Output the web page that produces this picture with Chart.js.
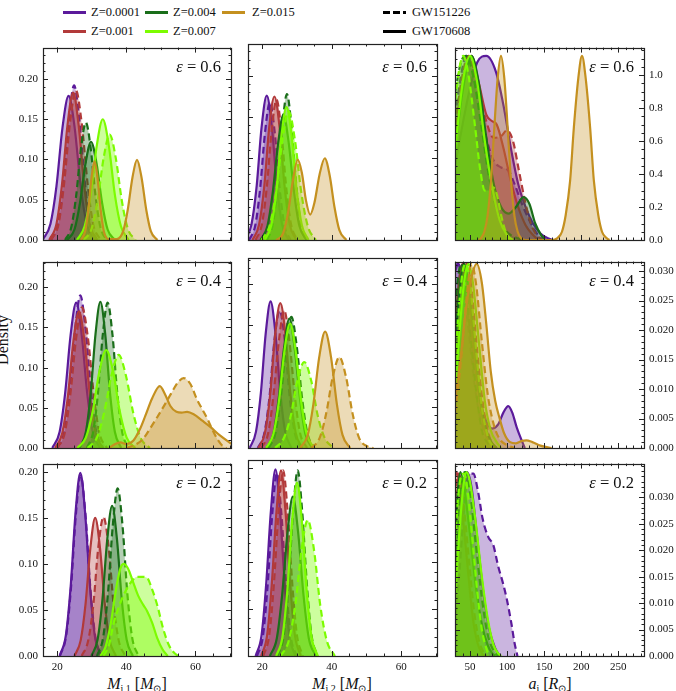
<!DOCTYPE html>
<html>
<head>
<meta charset="utf-8">
<script src="https://cdn.jsdelivr.net/npm/chart.js@4.4.0/dist/chart.umd.min.js"></script>
<style>
  body { margin: 0; width: 676px; height: 691px; overflow: hidden; background: #fff; position: relative; font-family: "Liberation Serif", serif; color: #111; }
  canvas { position: absolute; }
  .t { position: absolute; white-space: nowrap; }
  .leg { font-size: 12.5px; line-height: 14px; }
  .sw { position: absolute; width: 23px; height: 2.5px; }
  .eps { font-size: 16.5px; line-height: 16px; text-align: right; }
  .xt { font-size: 16px; line-height: 18px; text-align: center; width: 160px; }
  sub { font-size: 10px; vertical-align: -3px; line-height: 0; }
</style>
</head>
<body>
<!-- legend -->
<div class="sw" style="left:63px;top:11px;background:#5b1a9b"></div><div class="t leg" style="left:91px;top:5px">Z=0.0001</div>
<div class="sw" style="left:145px;top:11px;background:#1a6e1a"></div><div class="t leg" style="left:173px;top:5px">Z=0.004</div>
<div class="sw" style="left:222px;top:11px;background:#c4901f"></div><div class="t leg" style="left:252px;top:5px">Z=0.015</div>
<div class="sw" style="left:63px;top:30px;background:#b23a3a"></div><div class="t leg" style="left:91px;top:24px">Z=0.001</div>
<div class="sw" style="left:145px;top:30px;background:#7cfc00"></div><div class="t leg" style="left:173px;top:24px">Z=0.007</div>
<div class="sw" style="left:383px;top:11px;background:repeating-linear-gradient(90deg,#000 0 7px,transparent 7px 10px)"></div><div class="t leg" style="left:412px;top:5px">GW151226</div>
<div class="sw" style="left:383px;top:30px;background:#000"></div><div class="t leg" style="left:412px;top:24px">GW170608</div>

<div class="t" style="font-size:16px;left:-27px;top:331px;width:60px;text-align:center;transform:rotate(-90deg)">Density</div>
<div class="t xt" style="left:57px;top:675px"><i>M</i><sub>i,1</sub> [<i>M</i><sub>&#8857;</sub>]</div>
<div class="t xt" style="left:262px;top:675px"><i>M</i><sub>i,2</sub> [<i>M</i><sub>&#8857;</sub>]</div>
<div class="t xt" style="left:470px;top:675px"><i>a</i><sub>i</sub> [<i>R</i><sub>&#8857;</sub>]</div>

<script>
// ===== KDE curves, points are [x, density] =====
// m1 = M_i,1, m2 = M_i,2, a = a_i ; e06/e04/e02 = epsilon ; _s = GW170608 (solid), _d = GW151226 (dashed)

// --- epsilon = 0.6 ---
const m1_e06_z0001_s = [[15.8,0],[18.05,0.020],[19.8,0.067],[21.55,0.140],[23.3,0.179],[25.05,0.140],[26.8,0.067],[28.55,0.020],[30.8,0]];
const m1_e06_z0001_d = [[18.3,0],[20.3,0.021],[21.8,0.072],[23.4,0.150],[24.9,0.192],[26.4,0.150],[28.0,0.072],[29.5,0.021],[31.5,0]];
const m1_e06_z001_s = [[17.7,0],[19.8,0.020],[21.4,0.069],[23.0,0.143],[24.6,0.183],[26.2,0.143],[27.8,0.069],[29.4,0.020],[31.5,0]];
const m1_e06_z001_d = [[18.2,0],[20.4,0.020],[22.0,0.070],[23.7,0.145],[25.4,0.186],[27.1,0.145],[28.8,0.070],[30.4,0.020],[32.6,0]];
const m1_e06_z004_s = [[22.9,0],[25.0,0.013],[26.6,0.046],[28.2,0.095],[29.8,0.122],[31.4,0.095],[33.0,0.046],[34.6,0.013],[36.7,0]];
const m1_e06_z004_d = [[22.3,0],[24.1,0.016],[25.5,0.055],[26.9,0.114],[28.3,0.146],[29.7,0.114],[31.1,0.055],[32.5,0.016],[34.3,0]];
const m1_e06_z007_s = [[25.7,0],[27.95,0.017],[29.7,0.056],[31.45,0.117],[33.2,0.150],[34.95,0.117],[36.7,0.056],[38.45,0.017],[40.7,0]];
const m1_e06_z007_d = [[27.7,0],[29.95,0.014],[31.7,0.049],[33.45,0.102],[35.2,0.131],[36.95,0.102],[38.7,0.049],[40.45,0.014],[42.7,0]];
const m1_e06_z015_s = [[26.9,0],[28.1,0.011],[29.0,0.037],[29.9,0.076],[30.8,0.098],[31.7,0.076],[32.6,0.037],[33.5,0.011],[35.2,0.001],[37.2,0.001],[39.1,0.011],[40.4,0.037],[41.8,0.078],[43.1,0.0996],[44.4,0.078],[45.8,0.037],[47.1,0.011],[49.0,0]];

const m2_e06_z0001_s = [[15.0,0],[16.9,0.019],[18.4,0.066],[19.8,0.137],[21.3,0.176],[22.8,0.137],[24.2,0.066],[25.7,0.019],[27.6,0]];
const m2_e06_z0001_d = [[16.2,0],[18.0,0.018],[19.4,0.063],[20.8,0.131],[22.2,0.168],[23.6,0.131],[25.0,0.063],[26.4,0.018],[28.2,0]];
const m2_e06_z001_s = [[17.2,0],[19.1,0.019],[20.6,0.066],[22.0,0.137],[23.5,0.175],[25.0,0.137],[26.4,0.066],[27.9,0.019],[29.8,0]];
const m2_e06_z001_d = [[18.1,0],[19.9,0.019],[21.3,0.064],[22.7,0.133],[24.1,0.171],[25.5,0.133],[26.9,0.064],[28.3,0.019],[30.1,0]];
const m2_e06_z004_s = [[19.5,0],[21.5,0.017],[23.0,0.057],[24.6,0.119],[26.1,0.153],[27.6,0.119],[29.2,0.057],[30.7,0.017],[32.7,0]];
const m2_e06_z004_d = [[21.4,0],[23.1,0.020],[24.4,0.067],[25.8,0.139],[27.1,0.178],[28.4,0.139],[29.8,0.067],[31.1,0.020],[32.8,0]];
const m2_e06_z007_s = [[20.7,0],[22.6,0.018],[24.1,0.061],[25.5,0.126],[27.0,0.162],[28.5,0.126],[29.9,0.061],[31.4,0.018],[33.3,0]];
const m2_e06_z007_d = [[19.8,0],[22.1,0.017],[24.0,0.059],[25.8,0.122],[27.6,0.157],[29.4,0.122],[31.2,0.059],[33.1,0.017],[35.4,0]];
const m2_e06_z015_s = [[24.0,0],[26.0,0.008],[27.5,0.035],[28.9,0.075],[30.2,0.098],[31.4,0.082],[32.6,0.048],[33.8,0.031],[35.0,0.045],[36.5,0.080],[38.0,0.0997],[39.4,0.079],[40.8,0.040],[42.2,0.012],[44.2,0]];

const a_e06_z0001_s = [[30,0.45],[40,0.7],[50,0.92],[60,1.08],[72,1.117],[85,1.02],[95,0.82],[105,0.56],[115,0.34],[125,0.2],[135,0.1],[145,0.04],[155,0.01],[162,0]];
const a_e06_z0001_d = [[30,0.75],[38,1.0],[45,1.117],[53,1.05],[62,0.85],[72,0.62],[82,0.48],[92,0.44],[102,0.42],[110,0.34],[120,0.22],[130,0.12],[140,0.04],[148,0]];
const a_e06_z001_s = [[30,0.6],[40,0.95],[52,1.117],[62,0.95],[72,0.76],[80,0.72],[86,0.7],[95,0.56],[105,0.36],[115,0.2],[125,0.09],[135,0.03],[142,0]];
const a_e06_z001_d = [[30,0.7],[40,1.0],[48,1.117],[58,0.98],[70,0.75],[82,0.62],[92,0.63],[100,0.666],[108,0.6],[116,0.42],[124,0.24],[132,0.1],[140,0.03],[148,0]];
const a_e06_z004_s = [[30,0.55],[40,0.9],[52,1.117],[62,0.95],[72,0.62],[82,0.34],[92,0.2],[102,0.16],[112,0.2],[122,0.26],[130,0.22],[138,0.1],[146,0.03],[152,0]];
const a_e06_z004_d = [[30,0.9],[38,1.08],[45,1.117],[55,0.98],[65,0.7],[75,0.4],[85,0.2],[95,0.08],[105,0.03],[115,0.01],[122,0]];
const a_e06_z007_s = [[30,0.55],[40,0.95],[50,1.117],[60,0.95],[70,0.6],[80,0.32],[90,0.12],[100,0.03],[108,0]];
const a_e06_z007_d = [[30,0.85],[36,1.05],[41,1.117],[48,1.0],[56,0.72],[64,0.42],[70,0.3],[76,0.3],[81,0.32],[86,0.28],[92,0.15],[98,0.05],[104,0]];
const a_e06_z015_s = [[62,0],[65,0.012],[69.3,0.05],[73.8,0.15],[78.3,0.36],[82.8,0.68],[87.3,0.98],[91.8,1.117],[96.3,0.98],[100.8,0.68],[105.3,0.36],[109.8,0.15],[114.3,0.05],[118.8,0.012],[125,0],[160,0],[168,0.012],[174,0.05],[179,0.15],[185,0.36],[190,0.68],[196,0.98],[201,1.117],[206,0.98],[212,0.68],[217,0.36],[223,0.15],[228,0.05],[234,0.012],[238,0]];

// --- epsilon = 0.4 ---
const m1_e04_z0001_s = [[18.6,0],[20.7,0.020],[22.3,0.068],[23.9,0.141],[25.5,0.181],[27.1,0.141],[28.7,0.068],[30.3,0.020],[32.4,0]];
const m1_e04_z0001_d = [[20.1,0],[22.1,0.021],[23.6,0.071],[25.2,0.148],[26.7,0.190],[28.2,0.148],[29.8,0.071],[31.3,0.021],[33.3,0]];
const m1_e04_z001_s = [[19.4,0],[21.5,0.019],[23.1,0.064],[24.7,0.133],[26.3,0.170],[27.9,0.133],[29.5,0.064],[31.1,0.019],[33.2,0]];
const m1_e04_z001_d = [[20.0,0],[22.2,0.019],[23.8,0.066],[25.5,0.137],[27.2,0.175],[28.9,0.137],[30.6,0.066],[32.2,0.019],[34.4,0]];
const m1_e04_z004_s = [[26.5,0],[28.3,0.020],[29.7,0.068],[31.1,0.142],[32.5,0.182],[33.9,0.142],[35.3,0.068],[36.7,0.020],[38.5,0]];
const m1_e04_z004_d = [[28.6,0],[30.4,0.020],[31.8,0.068],[33.2,0.141],[34.6,0.181],[36.0,0.141],[37.4,0.068],[38.8,0.020],[40.6,0]];
const m1_e04_z007_s = [[25.8,0],[28.3,0.013],[30.3,0.046],[32.2,0.095],[34.2,0.122],[36.2,0.095],[38.1,0.046],[40.1,0.013],[42.6,0]];
const m1_e04_z007_d = [[28.8,0],[31.5,0.013],[33.6,0.044],[35.7,0.090],[37.8,0.116],[39.9,0.090],[42.0,0.044],[44.1,0.013],[46.8,0]];
const m1_e04_z015_s = [[35.0,0],[36.8,0.005],[38.3,0.007],[40.0,0.005],[42.0,0.009],[44.0,0.024],[45.5,0.040],[47.5,0.062],[49.7,0.077],[51.3,0.066],[52.8,0.052],[54.5,0.045],[56.0,0.044],[57.6,0.045],[59.5,0.042],[62.0,0.034],[64.4,0.026],[67.0,0.016],[70.5,0.005]];
const m1_e04_z015_d = [[40.0,0],[43.0,0.005],[45.0,0.012],[47.0,0.025],[48.9,0.038],[51.0,0.053],[53.0,0.068],[55.0,0.082],[56.6,0.087],[58.5,0.080],[60.5,0.060],[62.0,0.048],[63.5,0.036],[65.0,0.022],[66.5,0.010],[68.0,0.002],[69.0,0]];

const m2_e04_z0001_s = [[16.4,0],[18.2,0.020],[19.6,0.067],[21.0,0.140],[22.4,0.179],[23.8,0.140],[25.2,0.067],[26.6,0.020],[28.4,0]];
const m2_e04_z0001_d = [[18.7,0],[20.6,0.018],[22.1,0.063],[23.5,0.131],[25.0,0.168],[26.5,0.131],[27.9,0.063],[29.4,0.018],[31.3,0]];
const m2_e04_z001_s = [[18.9,0],[20.8,0.019],[22.3,0.066],[23.7,0.138],[25.2,0.177],[26.7,0.138],[28.1,0.066],[29.6,0.019],[31.5,0]];
const m2_e04_z001_d = [[19.7,0],[21.7,0.018],[23.2,0.063],[24.8,0.131],[26.3,0.168],[27.8,0.131],[29.4,0.063],[30.9,0.018],[32.9,0]];
const m2_e04_z004_s = [[21.2,0],[23.2,0.017],[24.7,0.059],[26.3,0.123],[27.8,0.158],[29.3,0.123],[30.9,0.059],[32.4,0.017],[34.4,0]];
const m2_e04_z004_d = [[21.8,0],[23.8,0.018],[25.3,0.060],[26.9,0.125],[28.4,0.160],[29.9,0.125],[31.5,0.060],[33.0,0.018],[35.0,0]];
const m2_e04_z007_s = [[21.1,0],[23.2,0.017],[24.8,0.057],[26.4,0.119],[28.0,0.152],[29.6,0.119],[31.2,0.057],[32.8,0.017],[34.9,0]];
const m2_e04_z007_d = [[23.7,0],[26.2,0.012],[28.2,0.039],[30.1,0.082],[32.1,0.105],[34.1,0.082],[36.0,0.039],[38.0,0.012],[40.5,0]];
const m2_e04_z015_s = [[30.9,0],[33.1,0.016],[34.7,0.053],[36.4,0.111],[38.1,0.142],[39.8,0.111],[41.5,0.053],[43.1,0.016],[45.3,0]];
const m2_e04_z015_d = [[34.1,0],[36.5,0.012],[38.4,0.042],[40.3,0.087],[42.2,0.111],[44.1,0.087],[46.0,0.042],[47.9,0.012],[50.3,0.002],[52.0,0]];

const a_e04_z0001_s = [[30,0.030],[34,0.0312],[40,0.029],[48,0.022],[56,0.014],[64,0.008],[72,0.0045],[80,0.0033],[88,0.004],[95,0.006],[101.6,0.0071],[107,0.006],[113,0.0035],[119,0.0015],[124,0]];
const a_e04_z0001_d = [[30,0.031],[34,0.0312],[40,0.028],[48,0.020],[56,0.011],[64,0.005],[72,0.002],[80,0.0005],[88,0]];
const a_e04_z001_s = [[30,0.020],[35,0.028],[40,0.0312],[46,0.028],[54,0.018],[62,0.009],[70,0.003],[78,0.001],[86,0]];
const a_e04_z001_d = [[30,0.012],[36,0.022],[42,0.030],[46,0.0312],[52,0.027],[60,0.016],[68,0.007],[76,0.002],[84,0]];
const a_e04_z004_s = [[30,0.018],[36,0.027],[42,0.0312],[48,0.028],[56,0.018],[64,0.008],[72,0.003],[80,0.0008],[86,0]];
const a_e04_z004_d = [[30,0.024],[34,0.029],[38,0.0312],[44,0.028],[50,0.020],[58,0.010],[66,0.003],[74,0.0008],[80,0]];
const a_e04_z007_s = [[30,0.010],[36,0.020],[42,0.028],[48,0.0312],[54,0.028],[62,0.018],[70,0.008],[78,0.003],[86,0.001],[92,0]];
const a_e04_z007_d = [[30,0.015],[36,0.025],[41,0.0305],[45,0.0312],[50,0.028],[58,0.017],[66,0.007],[74,0.002],[82,0]];
const a_e04_z015_s = [[30,0.008],[38,0.016],[45,0.024],[52,0.029],[59,0.0312],[66,0.028],[72,0.021],[78,0.013],[84,0.008],[90,0.005],[96,0.0025],[104,0.001],[112,0.0008],[120,0.0012],[126,0.0013],[134,0.001],[145,0.0004],[160,0]];
const a_e04_z015_d = [[30,0.006],[38,0.015],[45,0.025],[52,0.0312],[58,0.028],[66,0.018],[74,0.009],[82,0.004],[90,0.0015],[100,0.0005],[110,0]];

// --- epsilon = 0.2 ---
const m1_e02_z0001_s = [[20.7,0],[22.5,0.022],[23.9,0.075],[25.3,0.155],[26.7,0.199],[28.1,0.155],[29.5,0.075],[30.9,0.022],[32.7,0]];
const m1_e02_z0001_d = [[20.8,0],[22.6,0.022],[24.0,0.074],[25.4,0.153],[26.8,0.196],[28.2,0.153],[29.6,0.074],[31.0,0.022],[32.8,0]];
const m1_e02_z001_s = [[25.0,0],[26.8,0.017],[28.2,0.056],[29.6,0.117],[31.0,0.150],[32.4,0.117],[33.8,0.056],[35.2,0.017],[37.0,0]];
const m1_e02_z001_d = [[27.1,0],[29.0,0.017],[30.5,0.057],[31.9,0.118],[33.4,0.151],[34.9,0.118],[36.3,0.057],[37.8,0.017],[39.7,0]];
const m1_e02_z004_s = [[29.9,0],[31.7,0.018],[33.1,0.061],[34.5,0.127],[35.9,0.163],[37.3,0.127],[38.7,0.061],[40.1,0.018],[41.9,0]];
const m1_e02_z004_d = [[31.5,0],[33.3,0.020],[34.7,0.068],[36.1,0.142],[37.5,0.182],[38.9,0.142],[40.3,0.068],[41.7,0.020],[43.5,0]];
const m1_e02_z007_s = [[32.5,0],[34.0,0.010],[35.5,0.035],[37.0,0.072],[38.2,0.094],[39.2,0.100],[40.5,0.095],[42.0,0.080],[43.5,0.065],[45.0,0.055],[46.0,0.049],[47.5,0.036],[48.9,0.020],[50.5,0.007],[52.0,0]];
const m1_e02_z007_d = [[33.4,0],[35.0,0.012],[36.3,0.035],[38.0,0.055],[40.0,0.072],[42.0,0.083],[43.1,0.086],[44.5,0.086],[46.0,0.085],[47.5,0.072],[48.9,0.056],[50.8,0.028],[52.3,0.012],[53.7,0.004],[55.0,0]];

const m2_e02_z0001_s = [[18.1,0],[19.8,0.022],[21.1,0.075],[22.5,0.155],[23.8,0.199],[25.1,0.155],[26.5,0.075],[27.8,0.022],[29.5,0]];
const m2_e02_z0001_d = [[18.5,0],[20.2,0.021],[21.5,0.073],[22.9,0.152],[24.2,0.195],[25.5,0.152],[26.9,0.073],[28.2,0.021],[29.9,0]];
const m2_e02_z001_s = [[19.7,0],[21.4,0.022],[22.7,0.074],[24.1,0.154],[25.4,0.198],[26.7,0.154],[28.1,0.074],[29.4,0.022],[31.1,0]];
const m2_e02_z001_d = [[20.3,0],[22.0,0.022],[23.3,0.074],[24.7,0.154],[26.0,0.198],[27.3,0.154],[28.7,0.074],[30.0,0.022],[31.7,0]];
const m2_e02_z004_s = [[22.2,0],[24.2,0.019],[25.7,0.064],[27.3,0.133],[28.8,0.170],[30.3,0.133],[31.9,0.064],[33.4,0.019],[35.4,0]];
const m2_e02_z004_d = [[24.5,0],[26.2,0.022],[27.5,0.074],[28.9,0.154],[30.2,0.198],[31.5,0.154],[32.9,0.074],[34.2,0.022],[35.9,0]];
const m2_e02_z007_s = [[24.0,0],[25.8,0.020],[27.2,0.069],[28.6,0.144],[30.0,0.185],[31.4,0.144],[32.8,0.069],[34.2,0.020],[36.0,0]];
const m2_e02_z007_d = [[25.3,0],[27.6,0.016],[29.5,0.054],[31.3,0.113],[33.1,0.145],[34.9,0.113],[36.7,0.054],[38.6,0.016],[40.9,0]];

const a_e02_z0001_s = [[30,0.012],[36,0.024],[42,0.032],[46,0.0348],[52,0.032],[60,0.022],[68,0.012],[76,0.005],[84,0.0015],[90,0]];
const a_e02_z0001_d = [[30,0.006],[36,0.016],[42,0.028],[48.7,0.0345],[54.5,0.0345],[61,0.031],[67,0.026],[74.7,0.0225],[81.4,0.021],[88,0.017],[95,0.0135],[100,0.0105],[106,0.006],[110,0.0025],[114,0]];
const a_e02_z001_s = [[30,0.034],[32,0.0348],[36,0.032],[42,0.024],[48,0.015],[54,0.007],[60,0.0025],[66,0.0005],[70,0]];
const a_e02_z001_d = [[30,0.030],[34,0.0345],[38,0.033],[44,0.025],[50,0.016],[56,0.008],[62,0.003],[68,0.0008],[72,0]];
const a_e02_z004_s = [[30,0.020],[33,0.030],[37,0.0348],[42,0.032],[50,0.023],[58,0.013],[66,0.006],[74,0.002],[80,0.0005],[84,0]];
const a_e02_z004_d = [[30,0.016],[35,0.028],[40,0.034],[44,0.0348],[50,0.031],[58,0.021],[66,0.011],[74,0.004],[82,0.001],[88,0]];
const a_e02_z007_s = [[30,0.012],[36,0.024],[41,0.032],[45.5,0.0348],[50,0.033],[58,0.025],[66,0.015],[74,0.007],[82,0.002],[88,0.0005],[92,0]];
const a_e02_z007_d = [[30,0.022],[34,0.030],[38,0.034],[42,0.0345],[47,0.031],[54,0.021],[60,0.012],[66,0.005],[72,0.0015],[76,0]];

// ===== Tick labels =====
const massTicks = [20, 40, 60];
const sepTicks = [50, 100, 150, 200, 250];
const densTicks = [0, 0.05, 0.1, 0.15, 0.2];
const sepDensTicksTop = [0, 0.2, 0.4, 0.6, 0.8, 1.0];
const sepDensTicks = [0, 0.005, 0.01, 0.015, 0.02, 0.025, 0.03];

const COLORS = {
  z0001: [91, 26, 155],
  z001: [178, 58, 58],
  z004: [26, 110, 26],
  z007: [124, 252, 0],
  z015: [196, 144, 31],
};

// ===== Panel layout =====
const COLS = [[43, 231], [248, 437], [455, 644]];
const ROWS = [[44, 240], [258, 448], [460, 656]];
const PAD = 50, TOP = 8, BOT = 30;

function range(a, b, s) {
  const out = [];
  for (let v = a; v <= b + 1e-9; v += s) out.push(+v.toFixed(6));
  return out;
}

const xAxes = [
  { min: 15.9, max: 70.3, major: massTicks, minor: range(20, 70, 5) },
  { min: 15.9, max: 70.3, major: massTicks, minor: range(20, 70, 5) },
  { min: 29.8, max: 284.6, major: sepTicks, minor: range(30, 280, 10) },
];

const panels = [
  { row: 0, col: 0, eps: "0.6", ymax: 0.239, curves: [m1_e06_z0001_d, m1_e06_z0001_s, m1_e06_z001_d, m1_e06_z001_s, m1_e06_z004_d, m1_e06_z004_s, m1_e06_z007_d, m1_e06_z007_s, null, m1_e06_z015_s] },
  { row: 0, col: 1, eps: "0.6", ymax: 0.239, curves: [m2_e06_z0001_d, m2_e06_z0001_s, m2_e06_z001_d, m2_e06_z001_s, m2_e06_z004_d, m2_e06_z004_s, m2_e06_z007_d, m2_e06_z007_s, null, m2_e06_z015_s] },
  { row: 0, col: 2, eps: "0.6", ymax: 1.167, curves: [a_e06_z0001_d, a_e06_z0001_s, a_e06_z001_d, a_e06_z001_s, a_e06_z004_d, a_e06_z004_s, a_e06_z007_d, a_e06_z007_s, null, a_e06_z015_s] },
  { row: 1, col: 0, eps: "0.4", ymax: 0.232, curves: [m1_e04_z0001_d, m1_e04_z0001_s, m1_e04_z001_d, m1_e04_z001_s, m1_e04_z004_d, m1_e04_z004_s, m1_e04_z007_d, m1_e04_z007_s, m1_e04_z015_d, m1_e04_z015_s] },
  { row: 1, col: 1, eps: "0.4", ymax: 0.232, curves: [m2_e04_z0001_d, m2_e04_z0001_s, m2_e04_z001_d, m2_e04_z001_s, m2_e04_z004_d, m2_e04_z004_s, m2_e04_z007_d, m2_e04_z007_s, m2_e04_z015_d, m2_e04_z015_s] },
  { row: 1, col: 2, eps: "0.4", ymax: 0.0316, curves: [a_e04_z0001_d, a_e04_z0001_s, a_e04_z001_d, a_e04_z001_s, a_e04_z004_d, a_e04_z004_s, a_e04_z007_d, a_e04_z007_s, a_e04_z015_d, a_e04_z015_s] },
  { row: 2, col: 0, eps: "0.2", ymax: 0.209, curves: [m1_e02_z0001_d, m1_e02_z0001_s, m1_e02_z001_d, m1_e02_z001_s, m1_e02_z004_d, m1_e02_z004_s, m1_e02_z007_d, m1_e02_z007_s, null, null] },
  { row: 2, col: 1, eps: "0.2", ymax: 0.209, curves: [m2_e02_z0001_d, m2_e02_z0001_s, m2_e02_z001_d, m2_e02_z001_s, m2_e02_z004_d, m2_e02_z004_s, m2_e02_z007_d, m2_e02_z007_s, null, null] },
  { row: 2, col: 2, eps: "0.2", ymax: 0.0364, curves: [a_e02_z0001_d, a_e02_z0001_s, a_e02_z001_d, a_e02_z001_s, a_e02_z004_d, a_e02_z004_s, a_e02_z007_d, a_e02_z007_s, null, null] },
];
const Z_KEYS = ["z0001", "z0001", "z001", "z001", "z004", "z004", "z007", "z007", "z015", "z015"];

// ===== Frame + inward ticks on all four sides =====
const framePlugin = {
  id: "frame",
  afterDatasetsDraw(chart, args, o) {
    const { ctx, chartArea: a, scales } = chart;
    ctx.save();
    ctx.strokeStyle = "#222";
    ctx.lineWidth = 1;
    const seg = (x1, y1, x2, y2) => { ctx.beginPath(); ctx.moveTo(x1, y1); ctx.lineTo(x2, y2); ctx.stroke(); };
    const xs = (vals, len) => vals.forEach((v) => {
      if (v <= scales.x.min || v >= scales.x.max) return;
      const p = Math.round(scales.x.getPixelForValue(v)) + 0.5;
      seg(p, a.bottom, p, a.bottom - len);
      seg(p, a.top, p, a.top + len);
    });
    const ys = (vals, len) => vals.forEach((v) => {
      if (v <= scales.y.min || v >= scales.y.max) return;
      const p = Math.round(scales.y.getPixelForValue(v)) + 0.5;
      seg(a.left, p, a.left + len, p);
      seg(a.right, p, a.right - len, p);
    });
    xs(o.xMinor, 2.5); xs(o.xMajor, 5);
    ys(o.yMinor, 2.5); ys(o.yMajor, 5);
    ctx.lineWidth = 1.2;
    ctx.strokeRect(Math.round(a.left) + 0.5, Math.round(a.top) + 0.5, Math.round(a.width), Math.round(a.height));
    ctx.restore();
  },
};

const tickFont = { family: "Liberation Serif", size: 11 };

panels.forEach((p) => {
  const [L, R] = COLS[p.col];
  const [T, B] = ROWS[p.row];
  const w = R - L + 2 * PAD, h = B - T + TOP + BOT;
  const cv = document.createElement("canvas");
  cv.width = w; cv.height = h;
  cv.style.left = L - PAD + "px";
  cv.style.top = T - TOP + "px";
  cv.style.width = w + "px";
  cv.style.height = h + "px";
  document.body.appendChild(cv);

  const xa = xAxes[p.col];
  let yMajor, yMinor, yDec;
  if (p.col < 2) { yMajor = densTicks; yMinor = range(0, 0.23, 0.01); yDec = 2; }
  else if (p.row === 0) { yMajor = sepDensTicksTop; yMinor = range(0, 1.15, 0.05); yDec = 1; }
  else { yMajor = sepDensTicks; yMinor = range(0, 0.036, 0.001); yDec = 3; }

  const datasets = [];
  p.curves.forEach((pts, i) => {
    if (!pts) return;
    const c = COLORS[Z_KEYS[i]];
    const dashed = i % 2 === 0;
    datasets.push({
      data: pts.map(([x, y]) => ({ x, y })),
      borderColor: `rgb(${c})`,
      backgroundColor: `rgba(${c},${Z_KEYS[i] === "z007" ? 0.38 : 0.32})`,
      borderWidth: 2.2,
      borderDash: dashed ? [7, 4] : [],
      fill: "origin",
      pointRadius: 0,
      cubicInterpolationMode: "monotone",
      clip: 0,
    });
  });
  datasets.reverse(); // later metallicities drawn on top

  const yAxis = (pos, show) => ({
    type: "linear",
    position: pos,
    min: 0,
    max: p.ymax,
    grid: { display: false, drawTicks: false, tickLength: 0 },
    border: { display: false },
    afterBuildTicks: (s) => { s.ticks = yMajor.map((v) => ({ value: v })); },
    afterFit: (s) => { s.width = PAD; },
    ticks: { display: show, font: tickFont, color: "#111", padding: 5, callback: (v) => Number(v).toFixed(yDec) },
  });

  new Chart(cv, {
    type: "line",
    data: { datasets },
    options: {
      responsive: false,
      animation: false,
      devicePixelRatio: 1,
      layout: { padding: { top: TOP, left: 0, right: 0, bottom: 0 } },
      plugins: {
        legend: { display: false },
        tooltip: { enabled: false },
        frame: { xMajor: xa.major, xMinor: xa.minor, yMajor, yMinor },
      },
      scales: {
        x: {
          type: "linear",
          min: xa.min,
          max: xa.max,
          grid: { display: false, drawTicks: false, tickLength: 0 },
          border: { display: false },
          afterBuildTicks: (s) => { s.ticks = xa.major.map((v) => ({ value: v })); },
          afterFit: (s) => { s.height = BOT; },
          ticks: { display: p.row === 2, font: tickFont, color: "#111", padding: 5, maxRotation: 0, autoSkip: false, callback: (v) => String(v) },
        },
        y: yAxis("left", p.col === 0),
        y2: yAxis("right", p.col === 2),
      },
    },
    plugins: [framePlugin],
  });

  // epsilon label, top right inside the panel
  const lab = document.createElement("div");
  lab.className = "t eps";
  lab.style.right = 676 - (R - 10) + "px";
  lab.style.top = T + 15 + "px";
  lab.innerHTML = "<i>&epsilon;</i> = " + p.eps;
  document.body.appendChild(lab);
});
</script>
</body>
</html>
